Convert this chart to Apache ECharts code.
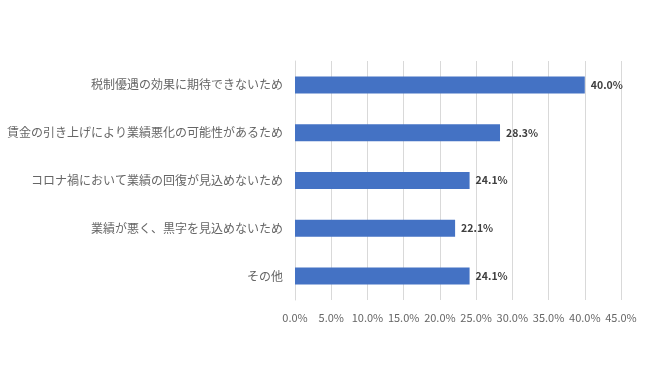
<!DOCTYPE html>
<html><head><meta charset="utf-8">
<script src="https://cdn.jsdelivr.net/npm/echarts@6/dist/echarts.min.js"></script>
<style>html,body{margin:0;padding:0;background:#fff}#c{width:650px;height:380px}</style>
</head><body><div id="c"></div>
<script>
const categories = ["税制優遇の効果に期待できないため","賃金の引き上げにより業績悪化の可能性があるため","コロナ禍において業績の回復が見込めないため","業績が悪く、黒字を見込めないため","その他"];
const values = [40.0, 28.3, 24.1, 22.1, 24.1];
const font = '"Noto Sans CJK JP", "Noto Sans", sans-serif';
const chart = echarts.init(document.getElementById('c'));
chart.setOption({
  animation: false,
  grid: {left: 295, right: 29, top: 61, bottom: 80, containLabel: false},
  xAxis: {
    type: 'value', min: 0, max: 45, interval: 5,
    axisLine: {show: false}, axisTick: {show: false},
    splitLine: {lineStyle: {color: '#d9d9d9', width: 1}},
    axisLabel: {formatter: v => v.toFixed(1) + '%', color: '#666666', fontSize: 11, fontFamily: font, margin: 12}
  },
  yAxis: {
    type: 'category', data: categories, inverse: true,
    axisLine: {show: true, lineStyle: {color: '#d9d9d9'}}, axisTick: {show: false},
    axisLabel: {color: '#666666', fontSize: 12, fontFamily: font, margin: 12}
  },
  series: [{
    type: 'bar', data: values, barWidth: 17,
    itemStyle: {color: '#4472C4'},
    label: {show: true, position: 'right', formatter: p => p.value.toFixed(1) + '%', color: '#404040', fontWeight: 'bold', fontSize: 10.5, fontFamily: font, distance: 6}
  }]
});
</script></body></html>
